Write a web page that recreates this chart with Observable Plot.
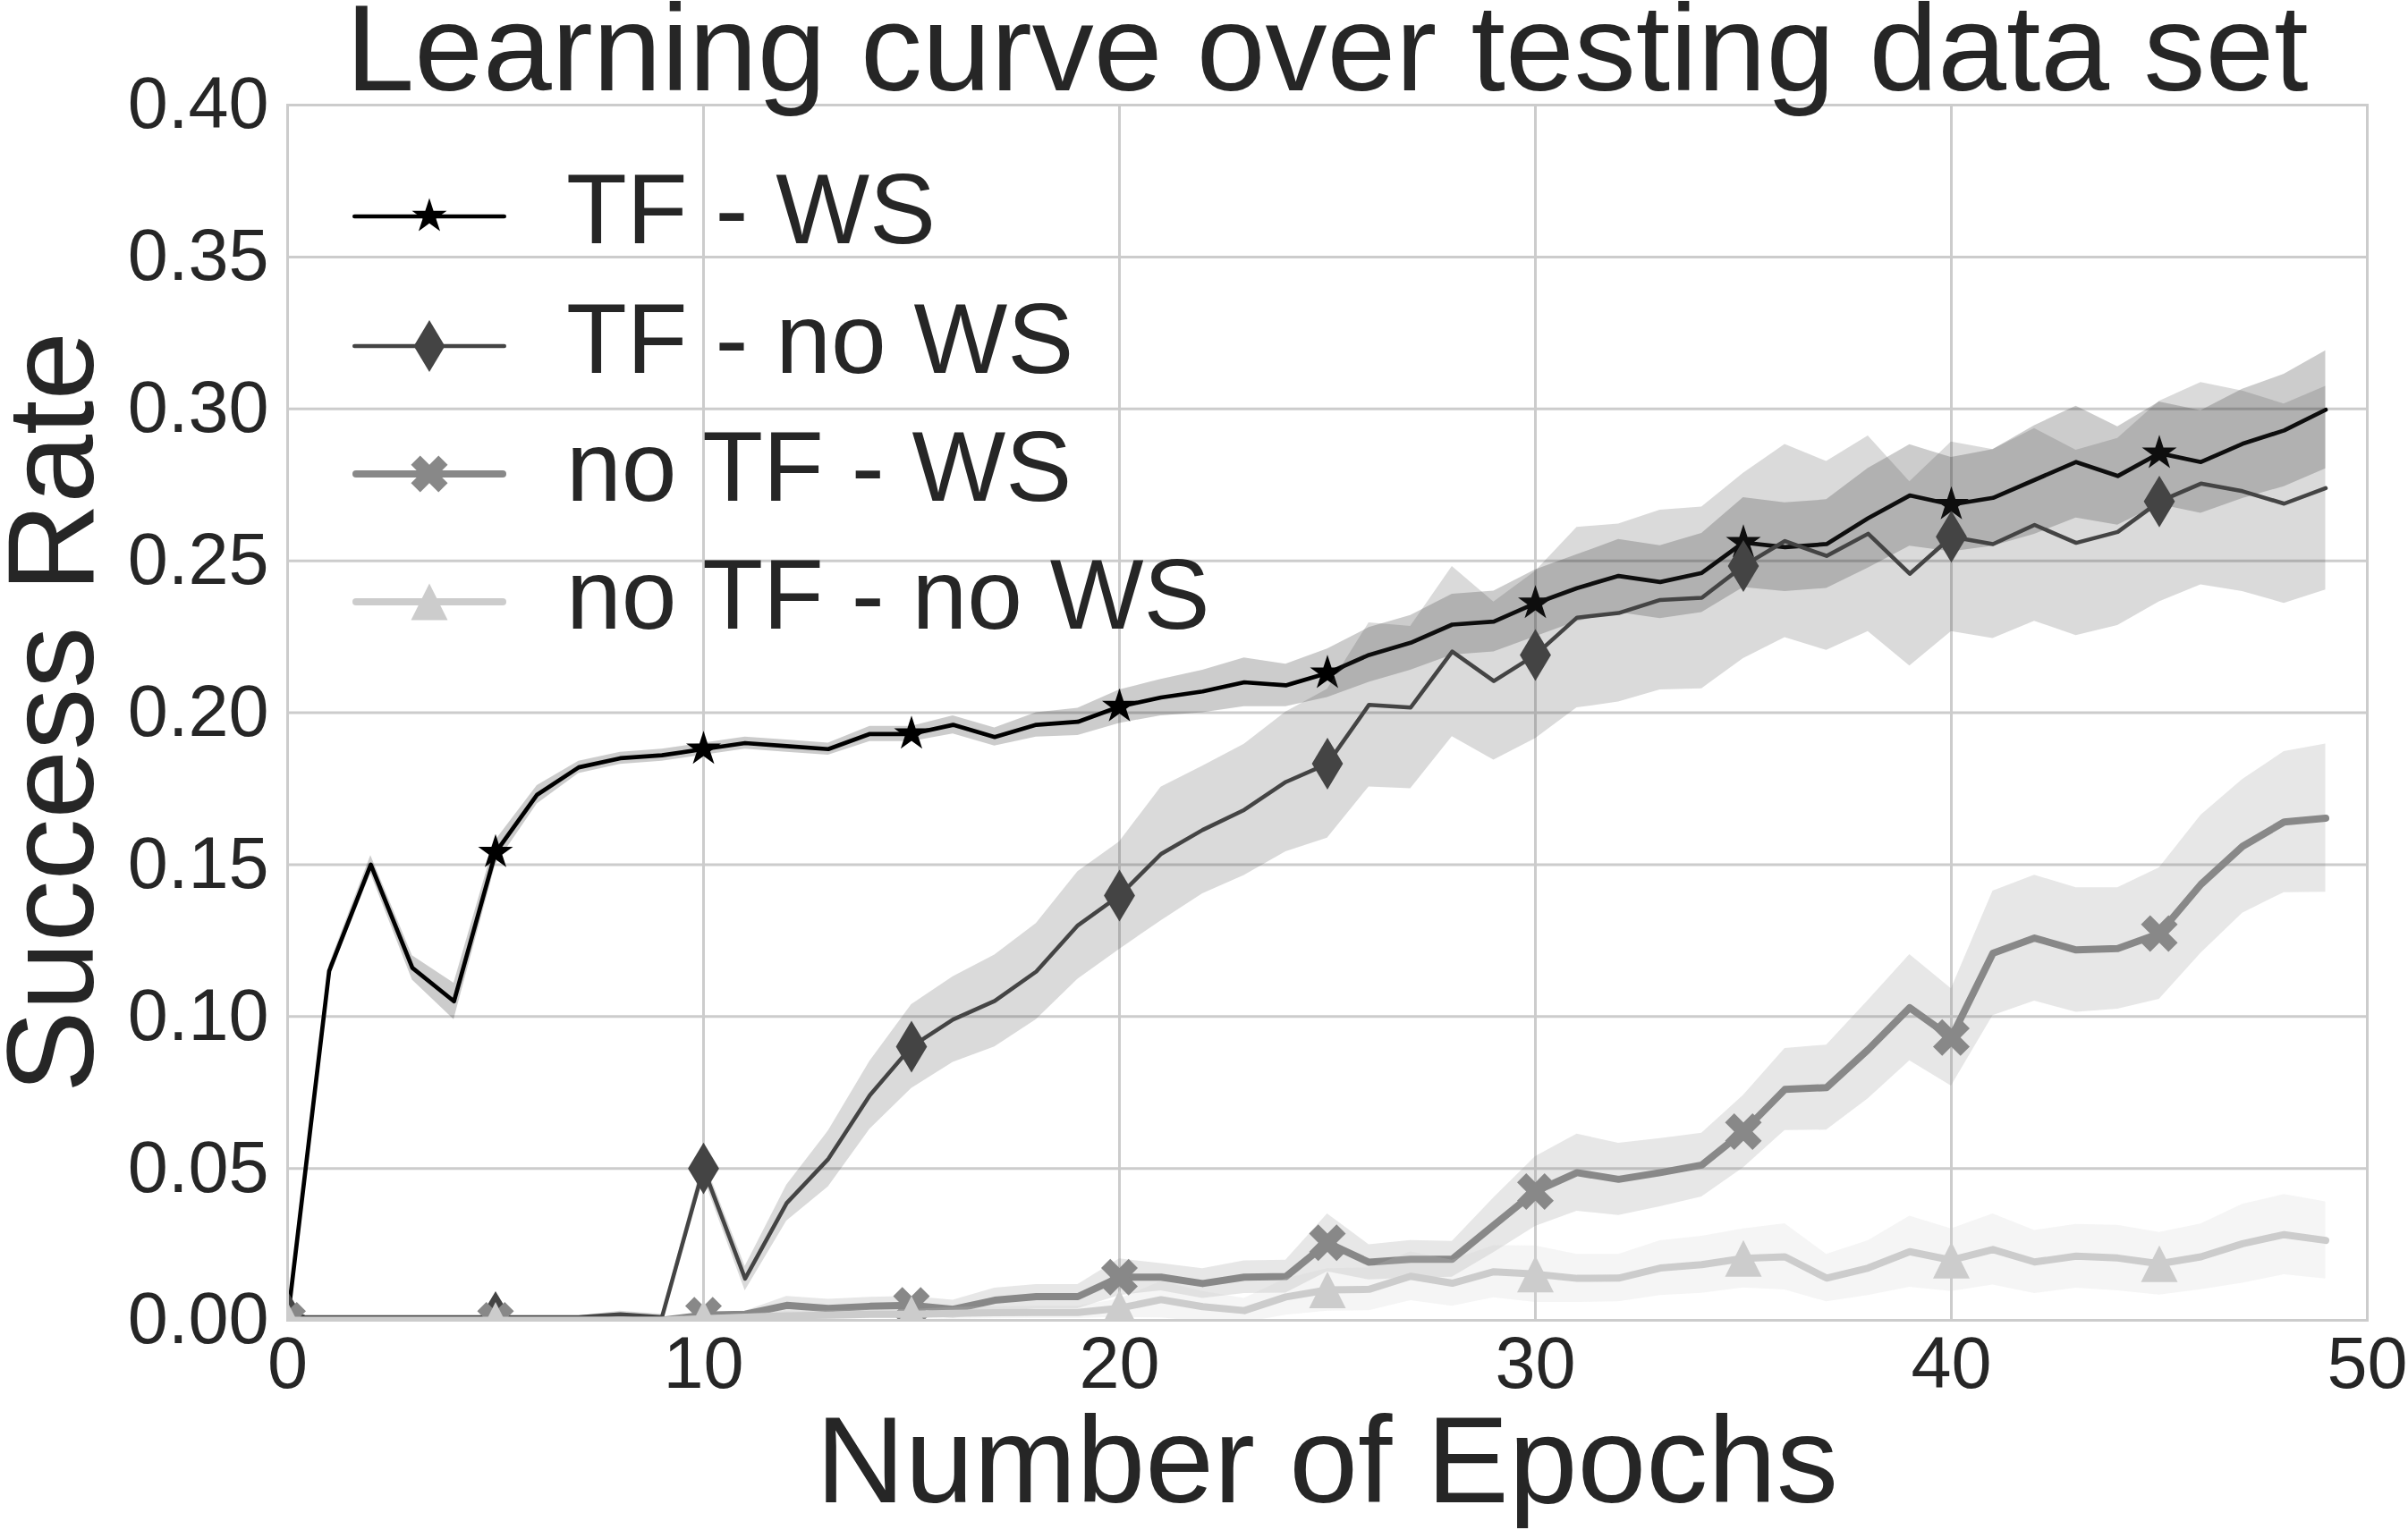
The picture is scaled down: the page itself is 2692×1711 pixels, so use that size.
<!DOCTYPE html>
<html>
<head>
<meta charset="utf-8">
<script src="https://cdn.jsdelivr.net/npm/d3@7"></script>
<script src="https://cdn.jsdelivr.net/npm/@observablehq/plot@0.6"></script>
<style>
html, body { margin: 0; padding: 0; background: #fff; }
#chart { width: 2692px; height: 1711px; }
</style>
</head>
<body>
<div id="chart"></div>
<script>
// ---------- data ----------
const titleText = "Learning curve over testing data set";
const xLabel = "Number of Epochs";
const yLabel = "Success Rate";
const seriesNames = ["TF - WS", "TF - no WS", "no TF - WS", "no TF - no WS"];
const epochs = Array.from({length: 50}, (_, i) => i);
const markerEpochs = [0, 5, 10, 15, 20, 25, 30, 35, 40, 45];
const xTicks = [0, 10, 20, 30, 40, 50];
const yTicks = [0, 0.05, 0.10, 0.15, 0.20, 0.25, 0.30, 0.35, 0.40];

const tfWS = [0.000, 0.115, 0.150, 0.116, 0.105, 0.154, 0.173, 0.182, 0.185, 0.186,
  0.188, 0.190, 0.189, 0.188, 0.193, 0.193, 0.196, 0.192, 0.196, 0.197,
  0.202, 0.205, 0.207, 0.210, 0.209, 0.213, 0.219, 0.223, 0.229, 0.230,
  0.236, 0.241, 0.245, 0.243, 0.246, 0.256, 0.2545, 0.2555, 0.264, 0.2715,
  0.2685, 0.2707, 0.2766, 0.2825, 0.2779, 0.2854, 0.2825, 0.2885, 0.2929, 0.2997];
const tfWSErr = [0.001, 0.002, 0.003, 0.004, 0.006, 0.004, 0.003, 0.002, 0.002, 0.002,
  0.002, 0.002, 0.002, 0.002, 0.0025, 0.0025, 0.003, 0.003, 0.004, 0.0045,
  0.0055, 0.006, 0.007, 0.008, 0.007, 0.008, 0.009, 0.009, 0.010, 0.010,
  0.011, 0.011, 0.012, 0.012, 0.013, 0.0148, 0.0146, 0.0146, 0.0164, 0.0167,
  0.0155, 0.0159, 0.0179, 0.0184, 0.0162, 0.0169, 0.0169, 0.018, 0.0185, 0.0194];

const tfNoWS = [0.001, 0.001, 0.001, 0.001, 0.001, 0.001, 0.001, 0.001, 0.002, 0.001,
  0.050, 0.0137, 0.0386, 0.0531, 0.0741, 0.0901, 0.0990, 0.1051, 0.1148, 0.1300,
  0.1398, 0.1535, 0.1614, 0.1680, 0.1772, 0.1832, 0.2026, 0.2017, 0.2201, 0.2104,
  0.2190, 0.2313, 0.2328, 0.2371, 0.2378, 0.2483, 0.2565, 0.2516, 0.2589, 0.2457,
  0.2579, 0.2555, 0.2618, 0.2559, 0.2595, 0.2695, 0.2754, 0.2729, 0.2688, 0.2739];
const tfNoWSErr = [0.0005, 0.0005, 0.0005, 0.0005, 0.0005, 0.0005, 0.0005, 0.0005, 0.001, 0.001,
  0.003, 0.004, 0.0059, 0.0092, 0.0112, 0.0138, 0.0141, 0.0151, 0.0158, 0.0177,
  0.0177, 0.022, 0.021, 0.0216, 0.023, 0.0245, 0.027, 0.0267, 0.028, 0.026,
  0.0275, 0.0297, 0.0293, 0.0296, 0.0299, 0.0305, 0.0318, 0.0311, 0.0322, 0.0303,
  0.0312, 0.0311, 0.0317, 0.0305, 0.0308, 0.033, 0.0333, 0.033, 0.0328, 0.0335];

const noTfWS = [0.000, 0.000, 0.000, 0.000, 0.000, 0.000, 0.000, 0.000, 0.000, 0.000,
  0.0017, 0.002, 0.0049, 0.0039, 0.0046, 0.0049, 0.0036, 0.0066, 0.0078, 0.0078,
  0.0142, 0.0142, 0.0121, 0.0142, 0.0144, 0.0255, 0.0191, 0.0201, 0.0201, 0.0313,
  0.0424, 0.0486, 0.0464, 0.0486, 0.0511, 0.0621, 0.0760, 0.0766, 0.0891, 0.1029,
  0.0931, 0.1208, 0.1258, 0.1219, 0.1224, 0.1273, 0.1435, 0.1560, 0.1640, 0.1653];
const noTfWSErr = [0.0005, 0.0005, 0.0005, 0.0005, 0.0005, 0.0005, 0.0005, 0.0005, 0.0005, 0.0005,
  0.001, 0.001, 0.003, 0.003, 0.003, 0.003, 0.003, 0.004, 0.004, 0.004,
  0.006, 0.0045, 0.0049, 0.0054, 0.0054, 0.0095, 0.0058, 0.0062, 0.0059, 0.009,
  0.0115, 0.0127, 0.0119, 0.0112, 0.0105, 0.0119, 0.0135, 0.014, 0.0162, 0.0175,
  0.016, 0.0205, 0.0207, 0.0205, 0.02, 0.0216, 0.0227, 0.022, 0.0232, 0.0244];

const noTfNoWS = [0, 0, 0, 0, 0, 0, 0, 0, 0, 0,
  0.0005, 0.001, 0.0015, 0.0017, 0.002, 0.002, 0.0023, 0.0025, 0.0026, 0.0026,
  0.004, 0.0068, 0.0045, 0.0032, 0.0077, 0.0100, 0.0102, 0.0145, 0.0122, 0.016,
  0.0152, 0.0138, 0.0139, 0.0172, 0.0183, 0.0204, 0.0209, 0.0139, 0.0172, 0.0226,
  0.0198, 0.0233, 0.0192, 0.0211, 0.0205, 0.0186, 0.0209, 0.0252, 0.0282, 0.0263];
const noTfNoWSErr = [0.0005, 0.0005, 0.0005, 0.0005, 0.0005, 0.0005, 0.0005, 0.0005, 0.0005, 0.0005,
  0.001, 0.001, 0.0015, 0.0015, 0.0015, 0.0015, 0.002, 0.002, 0.002, 0.002,
  0.003, 0.006, 0.005, 0.004, 0.006, 0.007, 0.007, 0.008, 0.0076, 0.0086,
  0.0093, 0.0079, 0.0078, 0.009, 0.0094, 0.0097, 0.0109, 0.0078, 0.009, 0.0117,
  0.0103, 0.0117, 0.0104, 0.0105, 0.0108, 0.0103, 0.0108, 0.013, 0.0132, 0.0127];

// ---------- styles ----------
const FONT = "Liberation Sans, Arial, Helvetica, sans-serif";
const TEXT = "#262626";
const colors = ["#000000", "#444444", "#888888", "#cccccc"];
const widths = [4.7, 4.5, 8, 8];
const MS = 41;
const starSym = {draw(ctx) {
  const R = MS / 2, r = R * 0.381966;
  for (let i = 0; i < 10; i++) {
    const a = -Math.PI / 2 + i * Math.PI / 5, rad = i % 2 === 0 ? R : r;
    const x = rad * Math.cos(a), y = rad * Math.sin(a);
    if (i) ctx.lineTo(x, y); else ctx.moveTo(x, y);
  }
  ctx.closePath();
}};
const diamondSym = {draw(ctx) {
  const h = MS * Math.SQRT2 / 2, w = 0.6 * h;
  ctx.moveTo(0, -h); ctx.lineTo(w, 0); ctx.lineTo(0, h); ctx.lineTo(-w, 0); ctx.closePath();
}};
const xSym = {draw(ctx) {
  const k = 7.25;
  const pts = [[-1,-3],[1,-3],[1,-1],[3,-1],[3,1],[1,1],[1,3],[-1,3],[-1,1],[-3,1],[-3,-1],[-1,-1]];
  pts.forEach(([px, py], i) => {
    const x = (px - py) / Math.SQRT2 * k, y = (px + py) / Math.SQRT2 * k;
    if (i) ctx.lineTo(x, y); else ctx.moveTo(x, y);
  });
  ctx.closePath();
}};
const triSym = {draw(ctx) {
  const h = MS / 2;
  ctx.moveTo(0, -h); ctx.lineTo(h, h); ctx.lineTo(-h, h); ctx.closePath();
}};
const symbols = [starSym, diamondSym, xSym, triSym];

const means = [tfWS, tfNoWS, noTfWS, noTfNoWS];
const errs = [tfWSErr, tfNoWSErr, noTfWSErr, noTfNoWSErr];

const tables = seriesNames.map((name, s) =>
  epochs.map((e, i) => ({series: name, epoch: e, mean: means[s][i], err: errs[s][i]})));

const marks = [
  Plot.gridX({ticks: xTicks, stroke: "#cccccc", strokeOpacity: 1, strokeWidth: 3}),
  Plot.gridY({ticks: yTicks, stroke: "#cccccc", strokeOpacity: 1, strokeWidth: 3})
];
tables.forEach((rows, s) => {
  marks.push(Plot.areaY(rows, {x: "epoch", y1: d => d.mean - d.err, y2: d => d.mean + d.err,
    fill: colors[s], fillOpacity: 0.2, clip: true}));
  marks.push(Plot.lineY(rows, {x: "epoch", y: "mean", stroke: colors[s], strokeWidth: widths[s],
    strokeLinejoin: "round", strokeLinecap: "round", clip: true}));
  marks.push(Plot.dot(rows.filter(d => markerEpochs.includes(d.epoch)),
    {x: "epoch", y: "mean", symbol: symbols[s], fill: colors[s], r: 10, clip: true}));
});
marks.push(Plot.frame({stroke: "#cccccc", strokeWidth: 3}));
marks.push(Plot.axisX({ticks: xTicks, tickSize: 0, tickPadding: 18, fontSize: 81,
  tickFormat: d => String(d), label: null, fill: TEXT}));
marks.push(Plot.axisY({ticks: yTicks, tickSize: 0, tickPadding: 21, fontSize: 81,
  tickFormat: d3.format(".2f"), label: null, fill: TEXT}));

const W = 2692, H = 1711;
const mL = 321, mR = 46, mT = 117, mB = 235;
const svg = Plot.plot({
  width: W, height: H,
  marginLeft: mL, marginRight: mR, marginTop: mT, marginBottom: mB,
  x: {domain: [0, 50]},
  y: {domain: [0, 0.40]},
  style: {background: "#ffffff", fontFamily: FONT, color: TEXT, overflow: "visible"},
  marks
});
document.getElementById("chart").appendChild(svg);

// ---------- title, axis labels, legend ----------
const root = d3.select(svg);
const cx = mL + (W - mL - mR) / 2;
const cy = mT + (H - mT - mB) / 2;
root.append("text").text(titleText)
  .attr("x", cx).attr("y", 101).attr("text-anchor", "middle")
  .attr("font-family", FONT).attr("font-size", 138).attr("fill", TEXT);
root.append("text").text(xLabel)
  .attr("x", cx).attr("y", 1680).attr("text-anchor", "middle")
  .attr("font-family", FONT).attr("font-size", 138).attr("fill", TEXT);
root.append("text").text(yLabel)
  .attr("transform", `translate(104,${cy}) rotate(-90)`).attr("text-anchor", "middle")
  .attr("font-family", FONT).attr("font-size", 138).attr("fill", TEXT);

const legendRows = [242, 387, 530, 673];
const lg = root.append("g").attr("text-anchor", "start");
seriesNames.forEach((name, s) => {
  const y = legendRows[s];
  lg.append("line").attr("x1", 394 + widths[s] / 2).attr("x2", 566 - widths[s] / 2)
    .attr("y1", y).attr("y2", y)
    .attr("stroke", colors[s]).attr("stroke-width", widths[s]).attr("stroke-linecap", "round");
  lg.append("path").attr("d", d3.symbol(symbols[s], 100)())
    .attr("transform", `translate(480,${y})`).attr("fill", colors[s]);
  lg.append("text").text(name).attr("x", 633).attr("y", y + 30)
    .attr("text-anchor", "start")
    .attr("font-family", FONT).attr("font-size", 111).attr("fill", TEXT);
});
</script>
</body>
</html>
